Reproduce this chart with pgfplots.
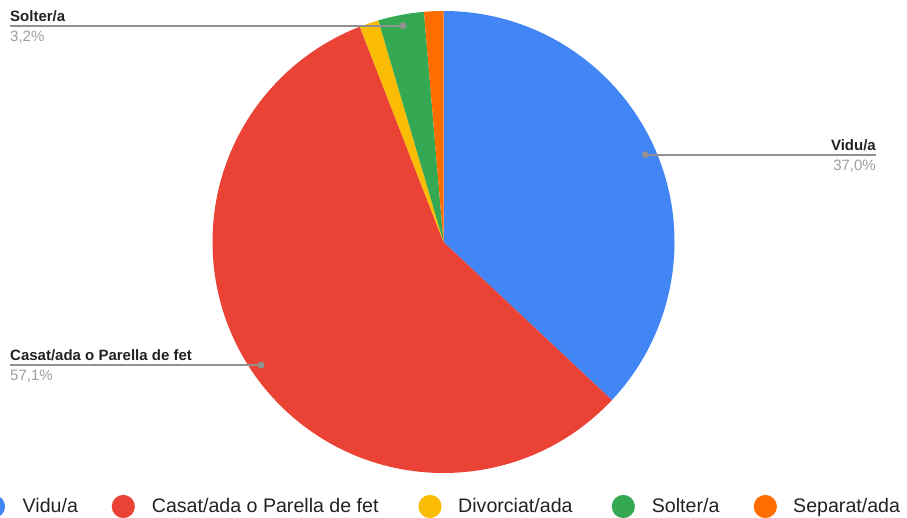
\documentclass[border=0pt]{standalone}
\usepackage{pgfplots}
\usepackage{pgfplotstable}
\pgfplotsset{compat=1.18}
\usepackage{fontspec}
\setmainfont{Liberation Sans}
\definecolor{cVidu}{HTML}{4285F4}
\definecolor{cCasat}{HTML}{EA4335}
\definecolor{cDivor}{HTML}{FBBC04}
\definecolor{cSolter}{HTML}{34A853}
\definecolor{cSepar}{HTML}{FF6D01}
\definecolor{lbl}{HTML}{222222}
\definecolor{pctc}{HTML}{9E9E9E}
\definecolor{leader}{HTML}{919191}

% name; share (%); colour; leader end x; side (1 right, -1 left, 0 none); legend circle x; legend text x
\pgfplotstableread[col sep=semicolon]{
name;value;color;lx;side;cx;tx
Vidu/a;37.0;cVidu;876;1;-6.5;22.5
Casat/ada o Parella de fet;57.1;cCasat;10;-1;123.3;151.7
Divorciat/ada;1.35;cDivor;0;0;430;458
Solter/a;3.2;cSolter;10;-1;623.3;651.7
Separat/ada;1.35;cSepar;0;0;765.3;793
}\piedata

\begin{document}
\begin{tikzpicture}
\path[use as bounding box] (0,0) rectangle (907pt,517pt);
\begin{axis}[x=1pt,y=1pt,xmin=0,xmax=907,ymin=0,ymax=517,
  hide axis,scale only axis,clip=false,anchor=south west,at={(0,0)}]
% wedges
\def\cum{0}
\pgfplotsforeachungrouped \i in {0,...,4}{%
  \pgfplotstablegetelem{\i}{value}\of\piedata \let\wval\pgfplotsretval
  \pgfplotstablegetelem{\i}{color}\of\piedata \let\wcol\pgfplotsretval
  \pgfmathsetmacro\wa{90-3.6*\cum}%
  \pgfmathsetmacro\wb{90-3.6*(\cum+\wval)}%
  \edef\temp{\noexpand\fill[\wcol] (axis cs:443.5,275) -- ++(\wa:231pt)
     arc[start angle=\wa,end angle=\wb,radius=231pt] -- cycle;}%
  \temp
  \pgfmathsetmacro\cum{\cum+\wval}%
}
% labels with leader lines
\def\cum{0}
\pgfplotsforeachungrouped \i in {0,...,4}{%
  \pgfplotstablegetelem{\i}{value}\of\piedata \let\wval\pgfplotsretval
  \pgfplotstablegetelem{\i}{name}\of\piedata \expandafter\let\csname wname\i\endcsname\pgfplotsretval
  \pgfplotstablegetelem{\i}{lx}\of\piedata \let\wlx\pgfplotsretval
  \pgfplotstablegetelem{\i}{side}\of\piedata \let\wside\pgfplotsretval
  \pgfmathsetmacro\wm{90-3.6*(\cum+\wval/2)}%
  \pgfmathsetmacro\wdx{443.5+220*cos(\wm)}%
  \pgfmathsetmacro\wdy{275+220*sin(\wm)}%
  \ifnum\wside=0 \else
    \pgfmathprintnumberto[fixed,fixed zerofill,precision=1,use comma,assume math mode=true]{\wval}{\wpct}%
    \expandafter\let\csname wpct\i\endcsname\wpct
    \ifnum\wside>0 \def\wanc{east}\else\def\wanc{west}\fi
    \edef\temp{%
      \noexpand\draw[leader,line width=1.8pt] (axis cs:\wdx,\wdy) -- (axis cs:\wlx,\wdy);
      \noexpand\fill[leader] (axis cs:\wdx,\wdy) circle[radius=3.5pt];
      \noexpand\node[anchor=base \wanc,inner sep=0pt,text=lbl,font=\noexpand\bfseries\noexpand\fontsize{15}{18}\noexpand\selectfont]
        at ([yshift=4.5pt]axis cs:\wlx,\wdy) {\expandafter\noexpand\csname wname\i\endcsname};
      \noexpand\node[anchor=base \wanc,inner sep=0pt,text=pctc,font=\noexpand\fontsize{15}{18}\noexpand\selectfont]
        at ([yshift=-15.8pt]axis cs:\wlx,\wdy) {\expandafter\noexpand\csname wpct\i\endcsname\noexpand\%};
    }%
    \temp
  \fi
  \pgfmathsetmacro\cum{\cum+\wval}%
}
% legend
\pgfplotsforeachungrouped \i in {0,...,4}{%
  \pgfplotstablegetelem{\i}{color}\of\piedata \let\wcol\pgfplotsretval
  \pgfplotstablegetelem{\i}{cx}\of\piedata \let\wcx\pgfplotsretval
  \pgfplotstablegetelem{\i}{tx}\of\piedata \let\wtx\pgfplotsretval
  \pgfplotstablegetelem{\i}{name}\of\piedata \expandafter\let\csname lname\i\endcsname\pgfplotsretval
  \edef\temp{%
    \noexpand\fill[\wcol] (axis cs:\wcx,10.5) circle[radius=11.6pt];
    \noexpand\node[anchor=base west,inner sep=0pt,text=lbl,font=\noexpand\fontsize{19.6}{24}\noexpand\selectfont]
      at (axis cs:\wtx,4.7) {\expandafter\noexpand\csname lname\i\endcsname};
  }%
  \temp
}
\end{axis}
\end{tikzpicture}
\end{document}
